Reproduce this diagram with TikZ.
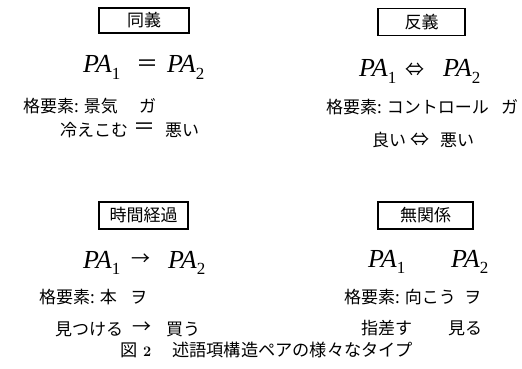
\documentclass[tikz,border=0pt]{standalone}
\usepackage{fontspec}
\newfontfamily\jp{Noto Sans CJK JP}
\newfontfamily\tms{Liberation Serif}
\newcommand\PAsub[1]{{\tms\fontsize{26}{26}\selectfont\itshape PA}\kern0.3pt\raisebox{-6.5pt}{\tms\fontsize{17}{17}\selectfont #1}}
\tikzset{
  x=1pt, y=-1pt,
  tbox/.style={draw, line width=1.2pt, inner sep=0pt, minimum height=25pt, font=\jp\fontsize{17}{17}\selectfont},
  jt/.style={inner sep=0pt, anchor=base west, font=\jp\fontsize{17}{20}\selectfont},
  eqs/.style={inner sep=0pt, anchor=base west},
  opeq/.style={inner sep=0pt, anchor=center, font=\jp\fontsize{22}{22}\selectfont},
  oparr/.style={inner sep=0pt, anchor=center, font=\jp\fontsize{19}{19}\selectfont},
  captext/.style={inner sep=0pt, anchor=base west, font=\jp\fontsize{17.2}{18}\selectfont}
}
\begin{document}
\begin{tikzpicture}
\useasboundingbox (0,0) rectangle (522,369);
% top left
\node[tbox, minimum width=90pt] (t1) at (144,20.5) {同義};
\node[eqs] (a1) at (83,73) {\PAsub{1}};
\node[opeq] (o1) at (147.5,66) {＝};
\node[eqs] (b1) at (167,73) {\PAsub{2}};
\node[jt] (c1) at (23,112.5) {格要素: 景気};
\node[jt] (g1) at (139,112.5) {ガ};
\node[jt] (l1) at (60,136.5) {冷えこむ};
\node[opeq] (m1) at (144,129) {＝};
\node[jt] (r1) at (165,136.5) {悪い};
% top right
\node[tbox, minimum width=87pt, minimum height=27pt] (t2) at (421.5,22) {反義};
\node[eqs] (a2) at (359,77) {\PAsub{1}};
\node[oparr] (o2) at (415,70) {⇔};
\node[eqs] (b2) at (443,77) {\PAsub{2}};
\node[jt] (c2) at (326,113) {格要素: コントロール};
\node[jt] (g2) at (501,113) {ガ};
\node[jt] (l2) at (372,146.5) {良い};
\node[oparr] (m2) at (420,140) {⇔};
\node[jt] (r2) at (440,146.5) {悪い};
% bottom left
\node[tbox, minimum width=89pt, minimum height=27pt] (t3) at (143.5,215.5) {時間経過};
\node[eqs] (a3) at (83,268) {\PAsub{1}};
\node[oparr] (o3) at (140.5,260) {→};
\node[eqs] (b3) at (168,268) {\PAsub{2}};
\node[jt] (c3) at (39,303.5) {格要素: 本};
\node[jt] (g3) at (130,303.5) {ヲ};
\node[jt] (l3) at (55,335) {見つける};
\node[oparr] (m3) at (141.5,328) {→};
\node[jt] (r3) at (166,335) {買う};
% bottom right
\node[tbox, minimum width=95pt, minimum height=27pt] (t4) at (425.5,215.5) {無関係};
\node[eqs] (a4) at (368,267) {\PAsub{1}};
\node[eqs] (b4) at (451,267) {\PAsub{2}};
\node[jt] (c4) at (344,303.5) {格要素: 向こう};
\node[jt] (g4) at (464,303.5) {ヲ};
\node[jt] (l4) at (361,334.5) {指差す};
\node[jt] (r4) at (448,334.5) {見る};
% caption
\node[captext] (f1) at (120,356.5) {図};
\node[inner sep=0pt, anchor=base west, font=\fontsize{14.5}{16}\selectfont\bfseries] (f2) at (143,356.5) {2};
\node[captext] (f3) at (172,356.5) {述語項構造ペアの様々なタイプ};
\end{tikzpicture}
\end{document}
